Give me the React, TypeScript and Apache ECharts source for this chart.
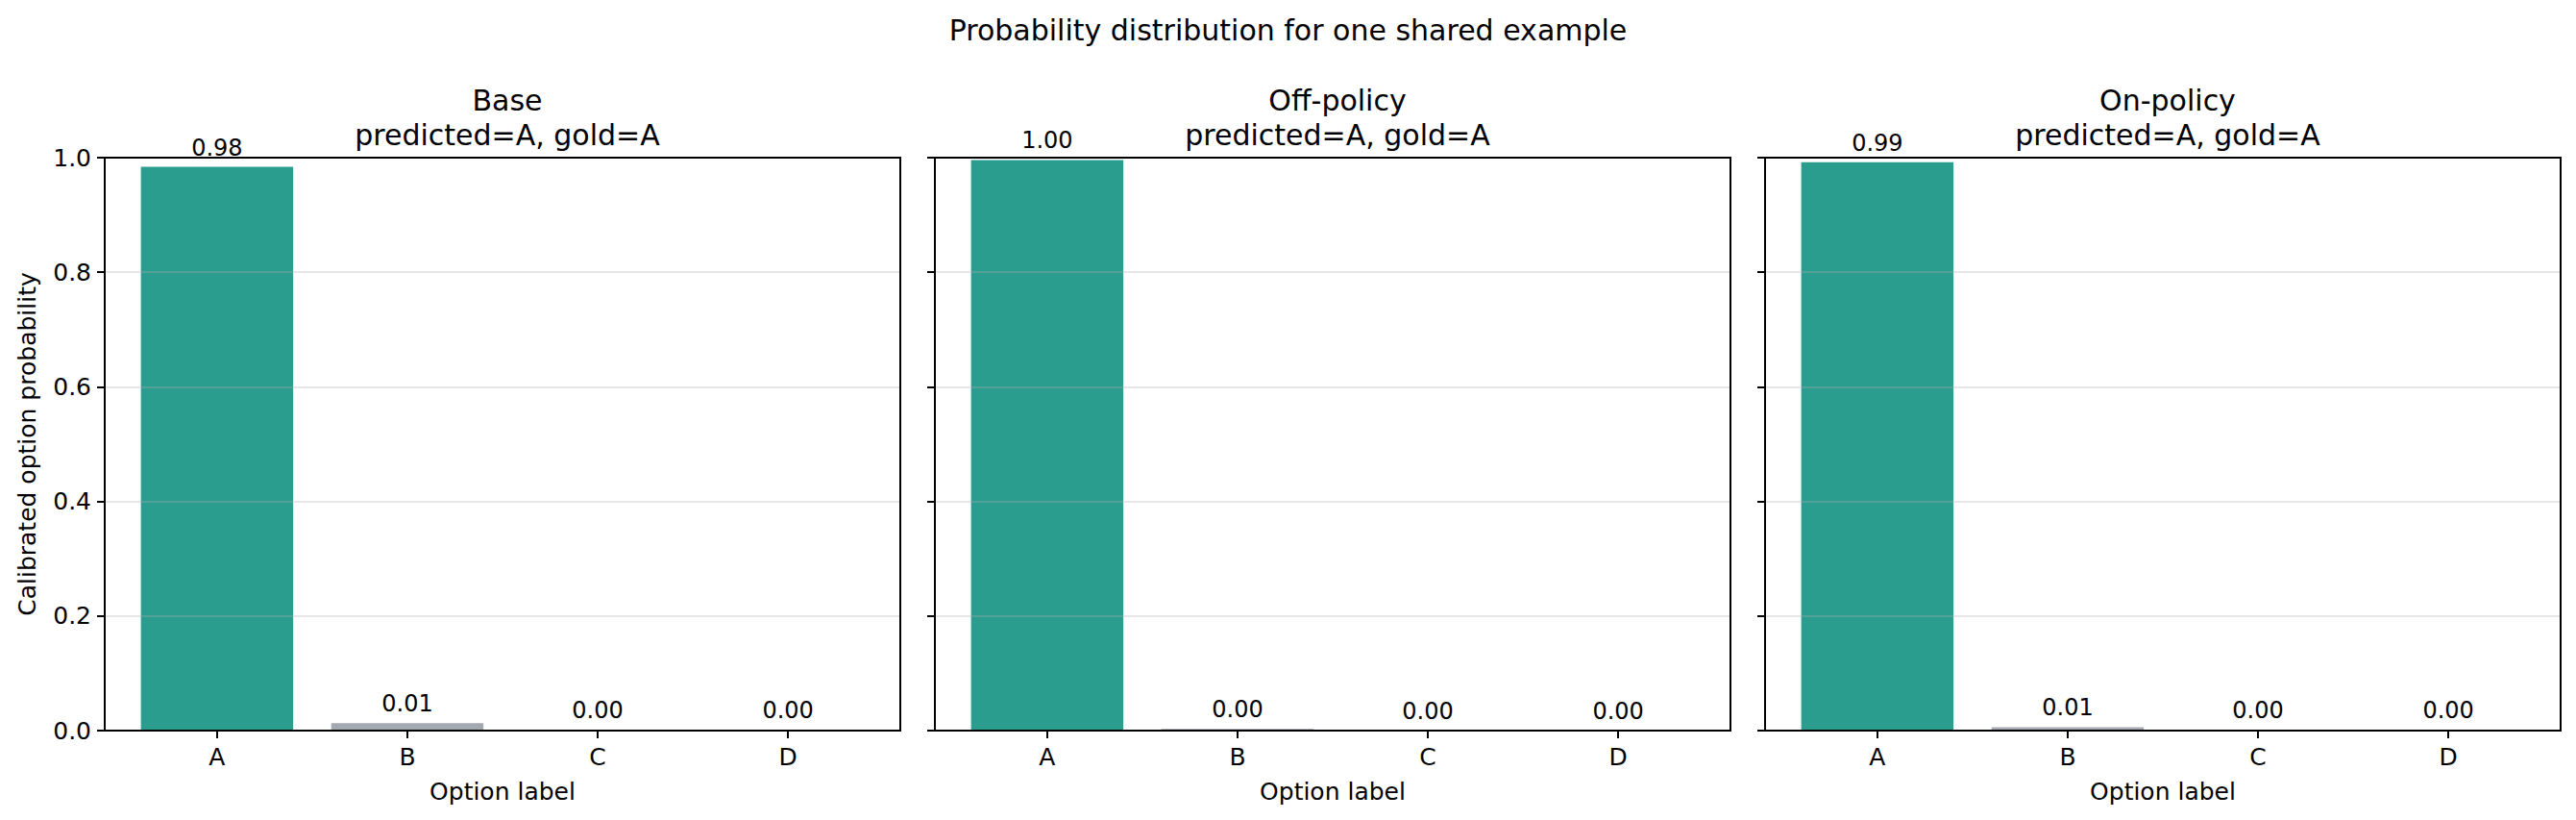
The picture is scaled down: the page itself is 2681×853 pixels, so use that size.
import React, { useEffect, useRef } from "react";
import * as echarts from "echarts";

const categories = ["A", "B", "C", "D"];
const panelTitles = ["Base", "Off-policy", "On-policy"];
const predictedLabels = ["A", "A", "A"];
const goldLabels = ["A", "A", "A"];
const baseProbs = [0.984, 0.013, 0.0015, 0.0012];
const offPolicyProbs = [0.996, 0.003, 0.0005, 0.0005];
const onPolicyProbs = [0.992, 0.006, 0.001, 0.001];
const yTicks = [0, 0.2, 0.4, 0.6, 0.8, 1.0];
const suptitle = "Probability distribution for one shared example";
const xAxisName = "Option label";
const yAxisName = "Calibrated option probability";

const FONT = "DejaVu Sans";
const TEAL = "#2a9d8f";
const GREY = "#a3a9b1";

const W = 2681;
const H = 853;
const GRID_LEFTS = [109, 973, 1837];
const GRID_TOP = 164;
const GRID_W = 828;
const GRID_H = 596;

export default function App() {
  const ref = useRef<HTMLDivElement>(null);
  useEffect(() => {
    document.body.style.margin = "0";
    if (!ref.current) return;
    const chart = echarts.init(ref.current, null, { renderer: "svg" });
    const panels = [baseProbs, offPolicyProbs, onPolicyProbs];
    const tickIdx = categories.map((_, i) => i);

    const option: any = {
      animation: false,
      backgroundColor: "#fff",
      textStyle: { fontFamily: FONT },
      title: [
        {
          text: suptitle,
          left: "center",
          top: 11,
          textStyle: { fontFamily: FONT, fontSize: 30, fontWeight: "normal", color: "#000" },
        },
        ...panelTitles.map((t, i) => ({
          text: `${t}\npredicted=${predictedLabels[i]}, gold=${goldLabels[i]}`,
          left: GRID_LEFTS[i] + GRID_W / 2,
          textAlign: "center",
          top: 81,
          textStyle: {
            fontFamily: FONT,
            fontSize: 30,
            lineHeight: 36,
            fontWeight: "normal",
            color: "#000",
          },
        })),
      ],
      grid: GRID_LEFTS.map((l) => ({
        left: l,
        top: GRID_TOP,
        width: GRID_W,
        height: GRID_H,
        show: true,
        borderColor: "#000",
        borderWidth: 2,
        backgroundColor: "transparent",
        z: 10,
      })),
      xAxis: GRID_LEFTS.map((_, i) => ({
        type: "value",
        gridIndex: i,
        min: -0.59,
        max: 3.59,
        axisLine: { show: false, onZero: false },
        splitLine: { show: false },
        axisTick: {
          show: true,
          customValues: tickIdx,
          length: 8,
          lineStyle: { color: "#000", width: 2 },
        },
        axisLabel: {
          customValues: tickIdx,
          formatter: (v: number) => categories[Math.round(v)] ?? "",
          fontSize: 25,
          color: "#000",
          fontFamily: FONT,
          margin: 15,
        },
        name: xAxisName,
        nameLocation: "middle",
        nameGap: 51,
        nameTextStyle: { fontSize: 25, color: "#000", fontFamily: FONT },
      })),
      yAxis: GRID_LEFTS.map((_, i) => ({
        type: "value",
        gridIndex: i,
        min: 0,
        max: 1,
        interval: 0.2,
        z: 3,
        axisLine: { show: false, onZero: false },
        axisTick: { show: true, length: 8, lineStyle: { color: "#000", width: 2 } },
        axisLabel: {
          show: i === 0,
          formatter: (v: number) => v.toFixed(1),
          customValues: yTicks,
          fontSize: 25,
          color: "#000",
          fontFamily: FONT,
          margin: 14,
        },
        splitLine: { show: true, lineStyle: { color: "rgba(176,176,176,0.3)", width: 2 } },
        name: i === 0 ? yAxisName : "",
        nameLocation: "middle",
        nameGap: 68,
        nameTextStyle: { fontSize: 25, color: "#000", fontFamily: FONT },
      })),
      series: panels.map((probs, p) => ({
        type: "bar",
        xAxisIndex: p,
        yAxisIndex: p,
        barWidth: "80%",
        data: probs.map((v, i) => ({
          value: [i, v],
          itemStyle: { color: categories[i] === predictedLabels[p] ? TEAL : GREY },
        })),
        label: {
          show: true,
          position: "top",
          distance: 8,
          formatter: (d: any) => d.value[1].toFixed(2),
          fontSize: 24,
          color: "#000",
          fontFamily: FONT,
        },
      })),
    };
    chart.setOption(option);
    return () => chart.dispose();
  }, []);
  return <div ref={ref} style={{ width: W, height: H }} />;
}
